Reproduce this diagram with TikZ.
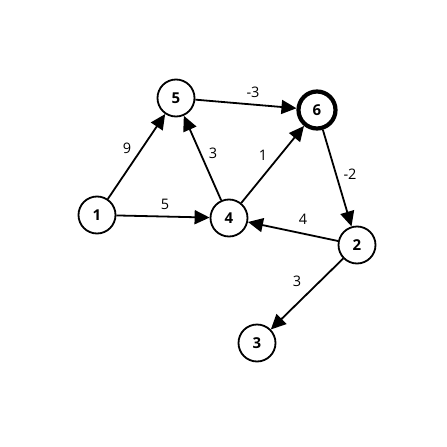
\documentclass[tikz,border=0pt]{standalone}
\usepackage{fontspec}
\setmainfont{Open Sans}
\usetikzlibrary{arrows.meta}

\begin{document}
\begin{tikzpicture}[
    x=1pt, y=-1pt,
    vtx/.style={draw, circle, line width=1.8pt, minimum size=37pt, inner sep=0pt, font=\fontsize{15}{15}\selectfont\bfseries},
    goal/.style={vtx, line width=4.2pt, minimum size=37pt},
    wt/.style={font=\fontsize{14.5}{14.5}\selectfont},
    arr/.style={line width=1.8pt, -{Triangle[length=15pt, width=14pt]}}
]
\useasboundingbox (0,0) rectangle (447,447);

\node[vtx] (n1) at (97,215) {1};
\node[vtx] (n5) at (176,98) {5};
\node[goal] (n6) at (317,110) {6};
\node[vtx] (n4) at (229,218) {4};
\node[vtx] (n2) at (357,245) {2};
\node[vtx] (n3) at (257,343) {3};

\draw[arr] (n1) -- (n5);
\draw[arr] (n1) -- (n4);
\draw[arr] (n5) -- (n6);
\draw[arr] (n4) -- (n5);
\draw[arr] (n4) -- (n6);
\draw[arr] (n6) -- (n2);
\draw[arr] (n2) -- (n4);
\draw[arr] (n2) -- (n3);

% edge weights
\node[wt] (w15) at (127,148) {9};
\node[wt] (w14) at (165,204) {5};
\node[wt] (w56) at (253,92) {-3};
\node[wt] (w45) at (213,153) {3};
\node[wt] (w46) at (263,155) {1};
\node[wt] (w62) at (350,174) {-2};
\node[wt] (w24) at (303,219) {4};
\node[wt] (w23) at (297,281) {3};
\end{tikzpicture}
\end{document}
